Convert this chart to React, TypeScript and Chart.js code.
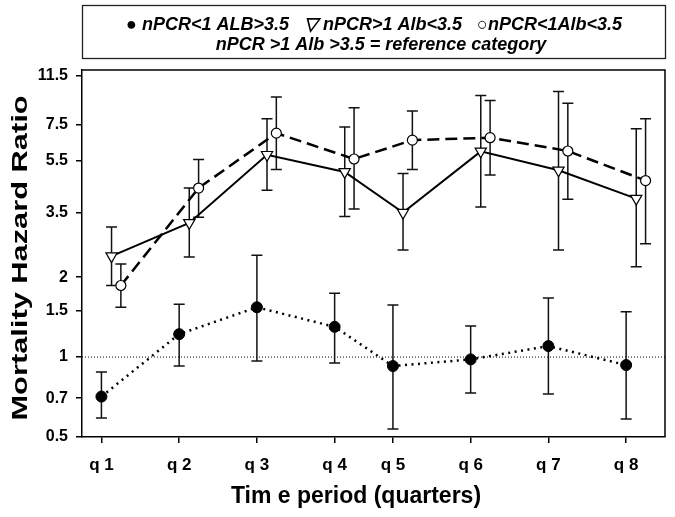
import React, { useEffect, useRef } from "react";
import { Chart, registerables } from "chart.js";

Chart.register(...registerables);

// ---- data ----
const quarterLabels = ["q 1", "q 2", "q 3", "q 4", "q 5", "q 6", "q 7", "q 8"];
const quarterPos = [1, 2, 3, 4, 4.75, 5.75, 6.75, 7.75];
const yTicks = [0.5, 0.7, 1, 1.5, 2, 3.5, 5.5, 7.5, 11.5];

// nPCR<1 ALB>3.5 (filled circles, dotted line)
const lowPcrHighAlbHR = [0.71, 1.22, 1.54, 1.3, 0.925, 0.98, 1.1, 0.933];
const lowPcrHighAlbLo = [0.59, 0.925, 0.966, 0.949, 0.536, 0.732, 0.726, 0.584];
const lowPcrHighAlbHi = [0.878, 1.58, 2.42, 1.74, 1.57, 1.31, 1.67, 1.48];

// nPCR>1 Alb<3.5 (open down triangles, solid line)
const highPcrLowAlbHR = [2.4, 3.2, 5.78, 4.98, 3.5, 5.95, 5.05, 3.95];
const highPcrLowAlbLo = [1.86, 2.38, 4.25, 3.38, 2.53, 3.67, 2.53, 2.19];
const highPcrLowAlbHi = [3.09, 4.33, 7.9, 7.35, 4.91, 9.67, 10.0, 7.24];

// nPCR<1Alb<3.5 (open circles, dashed line)
const lowPcrLowAlbHR = [1.86, 4.33, 6.97, 5.57, 6.56, 6.7, 5.97, 4.62];
const lowPcrLowAlbLo = [1.54, 3.36, 5.08, 3.61, 5.08, 4.85, 3.93, 2.67];
const lowPcrLowAlbHi = [2.24, 5.55, 9.53, 8.69, 8.44, 9.25, 9.04, 7.9];

const referenceHR = 1;

// horizontal offsets of the series around each quarter
const offsetFilled = 0;
const offsetTriangle = 0.13;
const offsetOpen = 0.25;

const FONT = "'Liberation Sans', Arial, Helvetica, sans-serif";

const errLo = [lowPcrHighAlbLo, highPcrLowAlbLo, lowPcrLowAlbLo];
const errHi = [lowPcrHighAlbHi, highPcrLowAlbHi, lowPcrLowAlbHi];

const decorPlugin = {
  id: "decor",
  beforeDatasetsDraw(chart: any) {
    const { ctx, chartArea, scales } = chart;
    const x = scales.x;
    const y = scales.y;
    ctx.save();
    // reference line
    const yr = y.getPixelForValue(referenceHR);
    ctx.strokeStyle = "#000";
    ctx.lineWidth = 1;
    ctx.setLineDash([1, 2]);
    ctx.beginPath();
    ctx.moveTo(chartArea.left, yr);
    ctx.lineTo(chartArea.right, yr);
    ctx.stroke();
    ctx.setLineDash([]);
    // error bars
    ctx.strokeStyle = "#111";
    ctx.lineWidth = 1.5;
    chart.data.datasets.forEach((ds: any, di: number) => {
      ds.data.forEach((p: any, i: number) => {
        const px = x.getPixelForValue(p.x);
        const pl = y.getPixelForValue(errLo[di][i]);
        const ph = y.getPixelForValue(errHi[di][i]);
        ctx.beginPath();
        ctx.moveTo(px, pl);
        ctx.lineTo(px, ph);
        ctx.moveTo(px - 5.5, pl);
        ctx.lineTo(px + 5.5, pl);
        ctx.moveTo(px - 5.5, ph);
        ctx.lineTo(px + 5.5, ph);
        ctx.stroke();
      });
    });
    ctx.restore();
  },
  afterDraw(chart: any) {
    const { ctx, chartArea } = chart;
    ctx.save();
    // frame top/right
    ctx.strokeStyle = "#000";
    ctx.lineWidth = 1.5;
    ctx.beginPath();
    ctx.moveTo(chartArea.left, chartArea.top);
    ctx.lineTo(chartArea.right, chartArea.top);
    ctx.lineTo(chartArea.right, chartArea.bottom);
    ctx.stroke();

    // legend box
    ctx.strokeStyle = "#222";
    ctx.lineWidth = 1.3;
    ctx.strokeRect(82.5, 5.5, 583, 53);
    ctx.fillStyle = "#000";
    ctx.font = `italic bold 18px ${FONT}`;
    ctx.textBaseline = "middle";
    ctx.textAlign = "center";
    const line1 = "\u25CF nPCR<1 ALB>3.5   \u25BD nPCR>1 Alb<3.5   \u25CBnPCR<1Alb<3.5";
    ctx.fillText(line1, 374, 25);
    ctx.fillText("nPCR >1 Alb >3.5 = reference category", 381, 45);

    // axis titles
    ctx.font = `bold 23px ${FONT}`;
    ctx.fillText("Tim e period (quarters)", 356, 497);

    ctx.translate(21, 258);
    ctx.rotate(-Math.PI / 2);
    ctx.scale(1.4, 1);
    ctx.font = `bold 22px ${FONT}`;
    ctx.fillText("Mortality Hazard Ratio", 0, 0);
    ctx.restore();
  },
};

export default function App() {
  const ref = useRef<HTMLCanvasElement | null>(null);
  useEffect(() => {
    if (!ref.current) return;
    const mk = (vals: number[], off: number) =>
      vals.map((v, i) => ({ x: quarterPos[i] + off, y: v }));
    const chart = new Chart(ref.current, {
      type: "scatter",
      data: {
        datasets: [
          {
            label: "nPCR<1 ALB>3.5",
            data: mk(lowPcrHighAlbHR, offsetFilled),
            showLine: true,
            borderColor: "#000",
            borderWidth: 2.5,
            borderDash: [2, 4.5],
            pointStyle: "circle",
            pointRadius: 5.5,
            pointBackgroundColor: "#000",
            pointBorderColor: "#000",
            pointBorderWidth: 1,
          },
          {
            label: "nPCR>1 Alb<3.5",
            data: mk(highPcrLowAlbHR, offsetTriangle),
            showLine: true,
            borderColor: "#000",
            borderWidth: 2,
            pointStyle: "triangle",
            rotation: 180,
            pointRadius: 6.5,
            pointBackgroundColor: "#fff",
            pointBorderColor: "#000",
            pointBorderWidth: 1.2,
          },
          {
            label: "nPCR<1Alb<3.5",
            data: mk(lowPcrLowAlbHR, offsetOpen),
            showLine: true,
            borderColor: "#000",
            borderWidth: 2.5,
            borderDash: [12, 6],
            pointStyle: "circle",
            pointRadius: 5,
            pointBackgroundColor: "#fff",
            pointBorderColor: "#000",
            pointBorderWidth: 1.2,
          },
        ],
      },
      options: {
        responsive: false,
        animation: false,
        layout: { padding: { top: 70, right: 10, left: 0, bottom: 0 } },
        plugins: {
          legend: { display: false },
          tooltip: { enabled: false },
          title: { display: false },
        },
        scales: {
          x: {
            type: "linear",
            min: 0.75,
            max: 8.25,
            afterFit: (s: any) => {
              s.height = 80;
            },
            afterBuildTicks: (s: any) => {
              s.ticks = quarterPos.map((v) => ({ value: v }));
            },
            ticks: {
              autoSkip: false,
              maxRotation: 0,
              callback: (_v: any, i: number) => quarterLabels[i],
              font: { family: FONT, size: 17, weight: "bold" },
              color: "#000",
              padding: 12,
            },
            grid: { drawOnChartArea: false, tickLength: 6, color: "#000", lineWidth: 1.5 },
            border: { color: "#000", width: 1.5 },
          },
          y: {
            type: "logarithmic",
            min: 0.5,
            max: 12.05,
            afterFit: (s: any) => {
              s.width = 82;
            },
            afterBuildTicks: (s: any) => {
              s.ticks = yTicks.map((v) => ({ value: v }));
            },
            ticks: {
              autoSkip: false,
              callback: (v: any) => String(v),
              font: { family: FONT, size: 16, weight: "bold" },
              color: "#000",
              padding: 8,
            },
            grid: { drawOnChartArea: false, tickLength: 6, color: "#000", lineWidth: 1.5 },
            border: { color: "#000", width: 1.5 },
          },
        },
      },
      plugins: [decorPlugin],
    } as any);
    return () => chart.destroy();
  }, []);
  return (
    <div style={{ position: "absolute", left: 0, top: 0, width: 675, height: 517, background: "#fff" }}>
      <canvas ref={ref} width={675} height={517} />
    </div>
  );
}
